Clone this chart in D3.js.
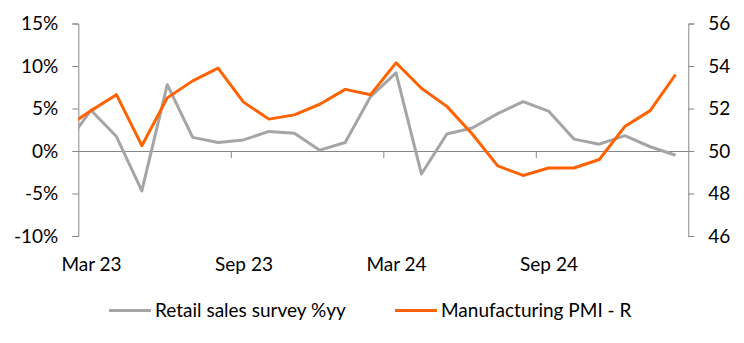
<!DOCTYPE html>
<html>
<head>
<meta charset="utf-8">
<script src="https://cdn.jsdelivr.net/npm/d3@7"></script>
<style>
  html, body { margin: 0; padding: 0; background: #fff; }
  svg text { font-family: Lato, "Open Sans", sans-serif; fill: #000; }
</style>
</head>
<body>
<svg id="chart" width="744" height="343"></svg>
<script>
// Monthly observations, Feb 23 (sits just left of the plot edge) to Feb 25
const months = ["Feb 23","Mar 23","Apr 23","May 23","Jun 23","Jul 23","Aug 23","Sep 23","Oct 23","Nov 23","Dec 23",
                "Jan 24","Feb 24","Mar 24","Apr 24","May 24","Jun 24","Jul 24","Aug 24","Sep 24","Oct 24","Nov 24","Dec 24",
                "Jan 25","Feb 25"];
// Retail sales survey, % year on year (left axis)
const retail = [0.7, 4.8, 1.7, -4.7, 7.8, 1.6, 1.0, 1.3, 2.3, 2.1, 0.1,
                1.0, 6.4, 9.2, -2.7, 2.0, 2.7, 4.4, 5.8, 4.7, 1.4, 0.8, 1.8,
                0.5, -0.5];
// Manufacturing PMI (right axis)
const pmi = [51.1, 51.9, 52.65, 50.25, 52.5, 53.3, 53.9, 52.3, 51.5, 51.7, 52.2,
             52.9, 52.65, 54.15, 52.95, 52.1, 50.8, 49.3, 48.85, 49.2, 49.2, 49.6, 51.15,
             51.9, 53.6];
const leftTicks = [-10, -5, 0, 5, 10, 15];
const rightTicks = [46, 48, 50, 52, 54, 56];
const labelIdx = [1, 7, 13, 19];         // Mar 23, Sep 23, Mar 24, Sep 24
const boundaryIdx = [6.5, 12.5, 18.5];   // half-yearly tick marks

const svg = d3.select("#chart");
const L = 78.3, R = 688.3, T = 23.5, B = 236;
const axisColor = "#868686";

// category index -> x, Mar 23 .. Feb 25 fill the plot between tick marks
const x = d3.scaleLinear().domain([0.5, 24.5]).range([L, R]);
const yL = d3.scaleLinear().domain([-10, 15]).range([B, T]);
const yR = d3.scaleLinear().domain([46, 56]).range([B, T]);

svg.append("defs").append("clipPath").attr("id", "plot")
  .append("rect").attr("x", L).attr("y", 0).attr("width", R - L).attr("height", 343);

function styleAxis(g) {
  g.selectAll(".domain, .tick line").attr("stroke", axisColor).attr("stroke-width", 1);
  g.selectAll("text").attr("font-size", 19).attr("font-family", "Lato, sans-serif").attr("fill", "#000");
}

// left axis
svg.append("g").attr("transform", `translate(${L},0)`)
  .call(d3.axisLeft(yL).tickValues(leftTicks).tickSize(6).tickSizeOuter(6).tickPadding(14)
        .tickFormat(d => d + "%"))
  .call(styleAxis);

// right axis
svg.append("g").attr("transform", `translate(${R},0)`)
  .call(d3.axisRight(yR).tickValues(rightTicks).tickSize(6).tickSizeOuter(6).tickPadding(14))
  .call(styleAxis);

// horizontal category axis along the 0% line
const zeroY = yL(0);
svg.append("g").attr("transform", `translate(0,${zeroY})`)
  .call(d3.axisBottom(x).tickValues(boundaryIdx).tickSize(7).tickSizeOuter(0).tickFormat(""))
  .call(styleAxis)
  .select(".domain").attr("d", `M${L},0.5H${R}`);

// month labels under the plot
svg.append("g").attr("transform", `translate(0,${B})`)
  .call(d3.axisBottom(x).tickValues(labelIdx).tickSize(0).tickPadding(22)
        .tickFormat(i => months[i]))
  .call(styleAxis)
  .call(g => g.select(".domain").remove());

const plot = svg.append("g").attr("clip-path", "url(#plot)");

plot.append("path")
  .datum(retail)
  .attr("fill", "none").attr("stroke", "#A5A5A5").attr("stroke-width", 3)
  .attr("stroke-linejoin", "round")
  .attr("d", d3.line().x((d, i) => x(i)).y(d => yL(d)));

plot.append("path")
  .datum(pmi)
  .attr("fill", "none").attr("stroke", "#FF6200").attr("stroke-width", 3)
  .attr("stroke-linejoin", "round")
  .attr("d", d3.line().x((d, i) => x(i)).y(d => yR(d)));

// legend
const legend = [
  { name: "Retail sales survey %yy", color: "#A5A5A5", x: 109 },
  { name: "Manufacturing PMI - R", color: "#FF6200", x: 395 }
];
const ly = 310.5;
const lg = svg.append("g");
legend.forEach(item => {
  lg.append("line").attr("x1", item.x).attr("x2", item.x + 42)
    .attr("y1", ly).attr("y2", ly).attr("stroke", item.color).attr("stroke-width", 3);
  lg.append("text").attr("x", item.x + 46).attr("y", ly).attr("dy", "0.35em")
    .attr("font-size", 19).text(item.name);
});
</script>
</body>
</html>
